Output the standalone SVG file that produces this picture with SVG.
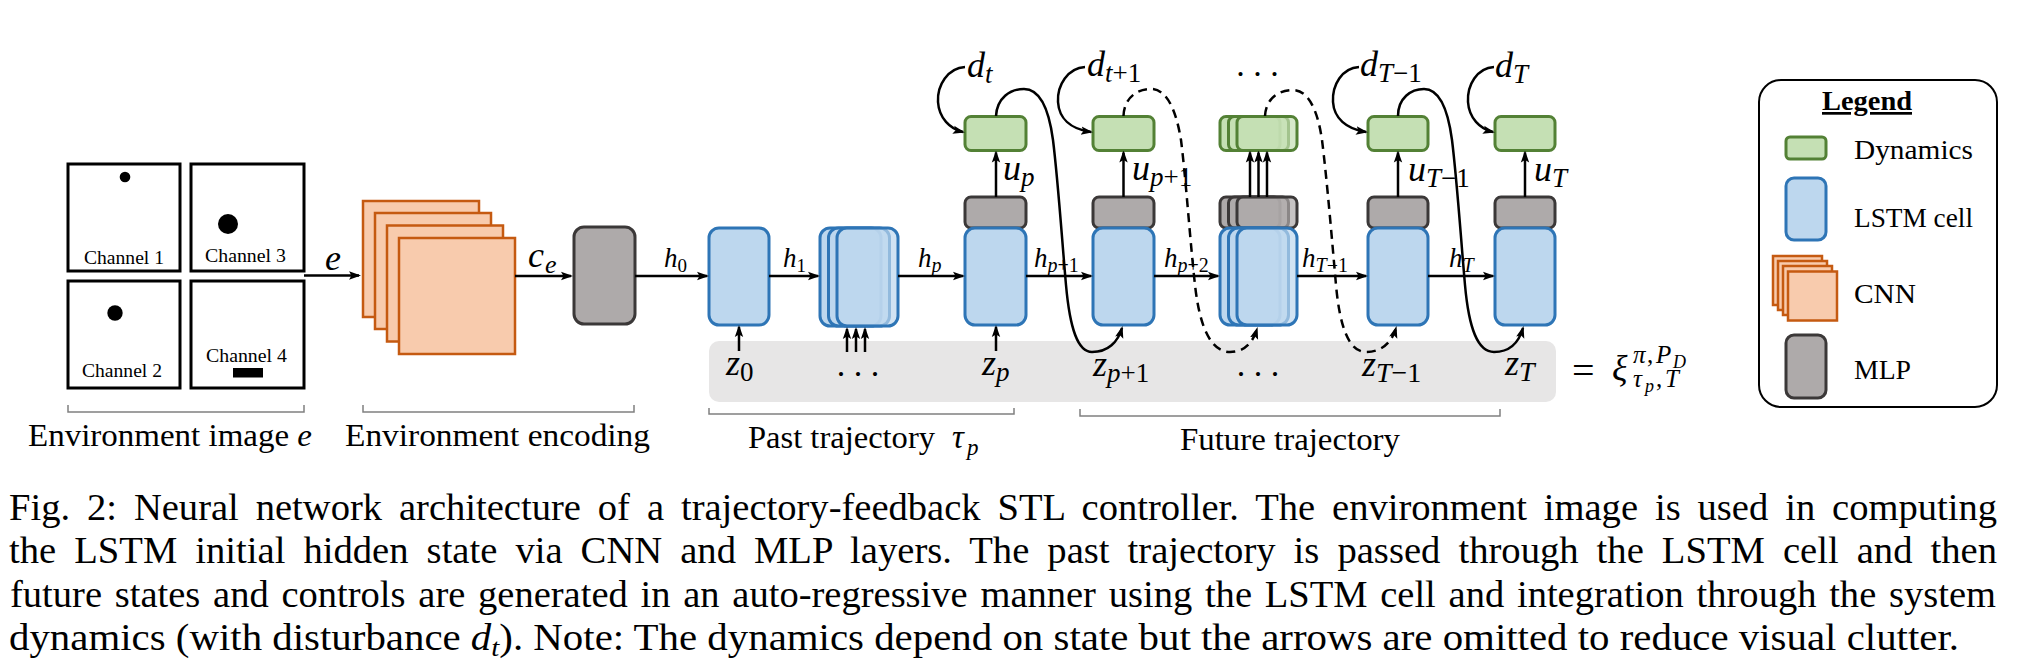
<svg xmlns="http://www.w3.org/2000/svg" width="2018" height="670" viewBox="0 0 2018 670">
<defs>
<style>
.ch{fill:#fff;stroke:#000;stroke-width:3}
.cnn{fill:#f8cbad;stroke:#c55a11;stroke-width:2.5}
.mlp{fill:#aeaaaa;stroke:#3b3838;stroke-width:3}
.lstm{fill:#bdd7ee;stroke:#2e75b6;stroke-width:3}
.dyn{fill:#c5e0b4;stroke:#538135;stroke-width:3}
.band{fill:#e7e6e6}
.br{fill:none;stroke:#808080;stroke-width:1.5}
.ln{fill:none;stroke:#000;stroke-width:2.5}
.arr{marker-end:url(#ah)}
.dash{stroke-dasharray:9 6}
.t{font-family:"Liberation Serif","Times New Roman",serif;fill:#000}
.it{font-style:italic}
.up{font-style:normal}
</style>
<marker id="ah" viewBox="0 0 12 10" refX="10" refY="5" markerWidth="12" markerHeight="10" markerUnits="userSpaceOnUse" orient="auto">
<path d="M0,0.8 L12,5 L0,9.2 L2.5,5 Z" fill="#000"/>
</marker>
</defs>
<rect width="2018" height="670" fill="#fff"/>

<g id="env-image">
<rect class="ch" x="68" y="164" width="112" height="107"/>
<rect class="ch" x="191" y="164" width="113" height="107"/>
<rect class="ch" x="68" y="281" width="112" height="107"/>
<rect class="ch" x="191" y="281" width="113" height="107"/>
<circle cx="125" cy="177" r="5.3"/>
<circle cx="228" cy="224" r="10"/>
<circle cx="115" cy="313" r="7.7"/>
<rect x="233" y="368" width="30" height="9.5"/>
<text class="t" font-size="19" x="84" y="264" textLength="80" lengthAdjust="spacingAndGlyphs">Channel 1</text>
<text class="t" font-size="19" x="205" y="262" textLength="81" lengthAdjust="spacingAndGlyphs">Channel 3</text>
<text class="t" font-size="19" x="82" y="377" textLength="80" lengthAdjust="spacingAndGlyphs">Channel 2</text>
<text class="t" font-size="19" x="206" y="362" textLength="81" lengthAdjust="spacingAndGlyphs">Channel 4</text>
</g>

<g id="cnn">
<rect class="cnn" x="363" y="201" width="116" height="116"/>
<rect class="cnn" x="375" y="213" width="116" height="116"/>
<rect class="cnn" x="387" y="225.5" width="116" height="116"/>
<rect class="cnn" x="399" y="238" width="116" height="116"/>
</g>

<g id="mlp-encoder">
<rect class="mlp" x="574" y="227" width="61" height="97" rx="10"/>
</g>

<g id="trajectory-band">
<rect class="band" x="709" y="341" width="847" height="61" rx="10"/>
</g>

<g id="lstm-0">
<rect class="lstm" x="709" y="228" width="60" height="97" rx="10"/>
</g>

<g id="lstm-past-stack">
<rect class="lstm" x="820" y="228" width="61" height="98" rx="10"/>
<rect class="lstm" x="828.5" y="228" width="61" height="98" rx="10" fill-opacity="0.8"/>
<rect class="lstm" x="837" y="228" width="61" height="98" rx="10" fill-opacity="0.7"/>
</g>

<g id="step-p">
<rect class="dyn" x="965" y="116.5" width="61" height="34" rx="6"/>
<rect class="mlp" x="965" y="197" width="61" height="31" rx="6"/>
<rect class="lstm" x="965" y="228" width="61" height="97" rx="10"/>
</g>

<g id="step-p1">
<rect class="dyn" x="1093" y="116.5" width="61" height="34" rx="6"/>
<rect class="mlp" x="1093" y="197" width="61" height="31" rx="6"/>
<rect class="lstm" x="1093" y="228" width="61" height="97" rx="10"/>
</g>

<g id="step-future-stack">
<rect class="dyn" x="1220" y="116.5" width="60" height="34" rx="6"/>
<rect class="dyn" x="1228.5" y="116.5" width="60" height="34" rx="6" fill-opacity="0.8"/>
<rect class="dyn" x="1237" y="116.5" width="60" height="34" rx="6" fill-opacity="0.7"/>
<rect class="mlp" x="1220" y="197" width="60" height="31" rx="6"/>
<rect class="mlp" x="1228.5" y="197" width="60" height="31" rx="6" fill-opacity="0.8"/>
<rect class="mlp" x="1237" y="197" width="60" height="31" rx="6" fill-opacity="0.7"/>
<rect class="lstm" x="1220" y="228" width="60" height="97" rx="10"/>
<rect class="lstm" x="1228.5" y="228" width="60" height="97" rx="10" fill-opacity="0.8"/>
<rect class="lstm" x="1237" y="228" width="60" height="97" rx="10" fill-opacity="0.7"/>
</g>

<g id="step-T1">
<rect class="dyn" x="1368" y="116.5" width="60" height="34" rx="6"/>
<rect class="mlp" x="1368" y="197" width="60" height="31" rx="6"/>
<rect class="lstm" x="1368" y="228" width="60" height="97" rx="10"/>
</g>

<g id="step-T">
<rect class="dyn" x="1495" y="116.5" width="60" height="34" rx="6"/>
<rect class="mlp" x="1495" y="197" width="60" height="31" rx="6"/>
<rect class="lstm" x="1495" y="228" width="60" height="97" rx="10"/>
</g>

<g id="connectors">
<line class="ln arr" x1="304" y1="275.5" x2="359" y2="275.5"/>
<line class="ln arr" x1="515" y1="276" x2="571" y2="276"/>
<line class="ln arr" x1="635" y1="276" x2="707" y2="276"/>
<line class="ln arr" x1="769" y1="276" x2="818" y2="276"/>
<line class="ln arr" x1="898" y1="276" x2="963" y2="276"/>
<line class="ln arr" x1="1026" y1="276" x2="1091" y2="276"/>
<line class="ln arr" x1="1154" y1="276" x2="1218" y2="276"/>
<line class="ln arr" x1="1297" y1="276" x2="1366" y2="276"/>
<line class="ln arr" x1="1428" y1="276" x2="1493" y2="276"/>
<line class="ln arr" x1="739" y1="351" x2="739" y2="327"/>
<line class="ln arr" x1="847" y1="352" x2="847" y2="329"/>
<line class="ln arr" x1="856" y1="352" x2="856" y2="329"/>
<line class="ln arr" x1="865" y1="352" x2="865" y2="329"/>
<line class="ln arr" x1="996" y1="351" x2="996" y2="327"/>
<line class="ln arr" x1="996" y1="197" x2="996" y2="152.5"/>
<line class="ln arr" x1="1123.5" y1="197" x2="1123.5" y2="152.5"/>
<line class="ln arr" x1="1250" y1="197" x2="1250" y2="152.5"/>
<line class="ln arr" x1="1258.5" y1="197" x2="1258.5" y2="152.5"/>
<line class="ln arr" x1="1267" y1="197" x2="1267" y2="152.5"/>
<line class="ln arr" x1="1398" y1="197" x2="1398" y2="152.5"/>
<line class="ln arr" x1="1525" y1="197" x2="1525" y2="152.5"/>
<path class="ln arr" d="M965,67 C948,68 937,85 938,102 C939,118 950,129 963,132"/>
<path class="ln arr" d="M1085,67 C1068,68 1057,85 1058,102 C1059,118 1070,129 1091,132"/>
<path class="ln arr" d="M1359,67 C1342,68 1332,85 1333,102 C1334,118 1346,129 1366,132"/>
<path class="ln arr" d="M1494,67 C1477,68 1467,85 1468,102 C1469,118 1480,129 1493,132"/>
<path class="ln arr" d="M996,116 C997,98 1010,89 1024,89 C1040,89 1049,110 1053,140 C1058,180 1062,240 1066,285 C1070,330 1078,352 1092,352 C1108,352 1118,342 1122,328"/>
<path class="ln arr dash" d="M1123.5,116 C1124,98 1137,89 1151,89 C1167,89 1176,110 1181,140 C1186,180 1190,240 1195,285 C1200,330 1212,352 1230,352 C1245,352 1253,342 1257,329"/>
<path class="ln arr dash" d="M1265,116 C1266,98 1279,90 1293,90 C1309,90 1318,112 1322,140 C1327,180 1332,240 1336,285 C1340,330 1350,352 1366,352 C1382,352 1392,342 1396,328"/>
<path class="ln arr" d="M1398,116 C1398,98 1411,89 1424,89 C1440,89 1448,110 1452,140 C1457,180 1461,240 1465,285 C1469,330 1478,352 1494,352 C1510,352 1519,342 1523,328"/>
</g>

<g id="connector-labels" class="t">
<text class="it" font-size="36" x="325" y="270">e</text>
<text font-size="36"><tspan class="it" x="528" y="267">c</tspan><tspan class="it" x="545" y="273" font-size="26">e</tspan></text>
<text font-size="27"><tspan class="it" x="664" y="267">h</tspan><tspan x="677.5" y="272" font-size="19">0</tspan></text>
<text font-size="27"><tspan class="it" x="783" y="267">h</tspan><tspan x="796.5" y="272" font-size="19">1</tspan></text>
<text font-size="27"><tspan class="it" x="918" y="267">h</tspan><tspan class="it" x="931.5" y="272" font-size="20">p</tspan></text>
<text font-size="27"><tspan class="it" x="1034" y="267">h</tspan><tspan x="1047.5" y="272" font-size="20"><tspan class="it">p</tspan>+1</tspan></text>
<text font-size="27"><tspan class="it" x="1164" y="267">h</tspan><tspan x="1177.5" y="272" font-size="20"><tspan class="it">p</tspan>+2</tspan></text>
<text font-size="27"><tspan class="it" x="1302" y="267">h</tspan><tspan x="1315.5" y="272" font-size="20"><tspan class="it">T</tspan>−1</tspan></text>
<text font-size="27"><tspan class="it" x="1449" y="267">h</tspan><tspan class="it" x="1462.5" y="272" font-size="20">T</tspan></text>
<text font-size="36"><tspan class="it" x="967" y="77">d</tspan><tspan class="it" x="985" y="83" font-size="27">t</tspan></text>
<text font-size="36"><tspan class="it" x="1087" y="76">d</tspan><tspan x="1105" y="82" font-size="27"><tspan class="it">t</tspan>+1</tspan></text>
<text font-size="36"><tspan class="it" x="1360" y="76">d</tspan><tspan x="1378" y="82" font-size="27"><tspan class="it">T</tspan>−1</tspan></text>
<text font-size="36"><tspan class="it" x="1495" y="77">d</tspan><tspan class="it" x="1513" y="83" font-size="27">T</tspan></text>
<text font-size="36"><tspan class="it" x="1003" y="180">u</tspan><tspan class="it" x="1021" y="186" font-size="27">p</tspan></text>
<text font-size="36"><tspan class="it" x="1132" y="180">u</tspan><tspan x="1150" y="186" font-size="27"><tspan class="it">p</tspan>+1</tspan></text>
<text font-size="36"><tspan class="it" x="1408" y="181">u</tspan><tspan x="1426" y="187" font-size="27"><tspan class="it">T</tspan>−1</tspan></text>
<text font-size="36"><tspan class="it" x="1534" y="181">u</tspan><tspan class="it" x="1552" y="187" font-size="27">T</tspan></text>
<text font-size="36"><tspan class="it" x="726" y="375">z</tspan><tspan x="740" y="381" font-size="27">0</tspan></text>
<text font-size="34" x="858" y="376" text-anchor="middle">. . .</text>
<text font-size="36"><tspan class="it" x="982" y="375">z</tspan><tspan class="it" x="996" y="381" font-size="27">p</tspan></text>
<text font-size="36"><tspan class="it" x="1093" y="376">z</tspan><tspan x="1107" y="382" font-size="27"><tspan class="it">p</tspan>+1</tspan></text>
<text font-size="34" x="1258" y="376" text-anchor="middle">. . .</text>
<text font-size="34" x="1257.5" y="76" text-anchor="middle">. . .</text>
<text font-size="36"><tspan class="it" x="1362" y="376">z</tspan><tspan x="1376" y="382" font-size="28"><tspan class="it">T</tspan>−1</tspan></text>
<text font-size="36"><tspan class="it" x="1505" y="375">z</tspan><tspan class="it" x="1519" y="381" font-size="28">T</tspan></text>
<text font-size="40" x="1572" y="384">=</text>
<text font-size="36"><tspan class="it" x="1612" y="380">ξ</tspan><tspan class="it" x="1633" y="363" font-size="25">π</tspan><tspan x="1647" y="363" font-size="25">,</tspan><tspan class="it" x="1656" y="363" font-size="25">P</tspan><tspan class="it" x="1673" y="368" font-size="18">D</tspan><tspan class="it" x="1633" y="387" font-size="25">τ</tspan><tspan class="it" x="1645" y="392" font-size="18">p</tspan><tspan x="1656" y="387" font-size="25">,</tspan><tspan class="it" x="1665" y="387" font-size="25">T</tspan></text>
</g>

<g id="group-labels" class="t">
<path class="br" d="M68,405 V412 H304 V405"/>
<path class="br" d="M363,405 V412 H634 V405"/>
<path class="br" d="M709,408 V414 H1014 V408"/>
<path class="br" d="M1080,409 V416 H1500 V409"/>
<text font-size="31" x="28" y="446" textLength="284" lengthAdjust="spacingAndGlyphs">Environment image <tspan class="it">e</tspan></text>
<text font-size="31" x="345" y="446" textLength="305" lengthAdjust="spacingAndGlyphs">Environment encoding</text>
<text font-size="31" x="748" y="448" textLength="187" lengthAdjust="spacingAndGlyphs">Past trajectory</text>
<text font-size="33"><tspan class="it" x="952" y="448">τ</tspan><tspan class="it" x="967" y="455" font-size="23">p</tspan></text>
<text font-size="31" x="1180" y="450" textLength="220" lengthAdjust="spacingAndGlyphs">Future trajectory</text>
</g>

<g id="legend" class="t">
<rect x="1759" y="80" width="238" height="327" rx="22" fill="#fff" stroke="#000" stroke-width="2"/>
<text font-size="27" font-weight="bold" x="1822" y="110" textLength="90" lengthAdjust="spacingAndGlyphs" text-decoration="underline">Legend</text>
<rect class="dyn" x="1786" y="137" width="40" height="22" rx="4"/>
<text font-size="28" x="1854" y="159" textLength="119" lengthAdjust="spacingAndGlyphs">Dynamics</text>
<rect class="lstm" x="1786" y="178" width="40" height="62" rx="8"/>
<text font-size="28" x="1854" y="227" textLength="119" lengthAdjust="spacingAndGlyphs">LSTM cell</text>
<rect class="cnn" x="1773" y="256" width="49" height="49"/>
<rect class="cnn" x="1778" y="261" width="49" height="49"/>
<rect class="cnn" x="1783" y="266" width="49" height="49"/>
<rect class="cnn" x="1788" y="271.5" width="49" height="49"/>
<text font-size="28" x="1854" y="303" textLength="62" lengthAdjust="spacingAndGlyphs">CNN</text>
<rect class="mlp" x="1786" y="335" width="40" height="63" rx="8"/>
<text font-size="28" x="1854" y="379" textLength="57" lengthAdjust="spacingAndGlyphs">MLP</text>
</g>

<g id="caption" class="t" font-size="37">
<text x="9" y="520" word-spacing="7" textLength="1988" lengthAdjust="spacingAndGlyphs">Fig. 2: Neural network architecture of a trajectory-feedback STL controller. The environment image is used in computing</text>
<text x="9" y="563" word-spacing="8" textLength="1988" lengthAdjust="spacingAndGlyphs">the LSTM initial hidden state via CNN and MLP layers. The past trajectory is passed through the LSTM cell and then</text>
<text x="10" y="607" word-spacing="3" textLength="1986" lengthAdjust="spacingAndGlyphs">future states and controls are generated in an auto-regressive manner using the LSTM cell and integration through the system</text>
<text x="9" y="650" textLength="1950" lengthAdjust="spacingAndGlyphs">dynamics (with disturbance <tspan class="it">d</tspan><tspan class="it" font-size="26" dy="6">t</tspan><tspan dy="-6">). Note: The dynamics depend on state but the arrows are omitted to reduce visual clutter.</tspan></text>
</g>
</svg>
